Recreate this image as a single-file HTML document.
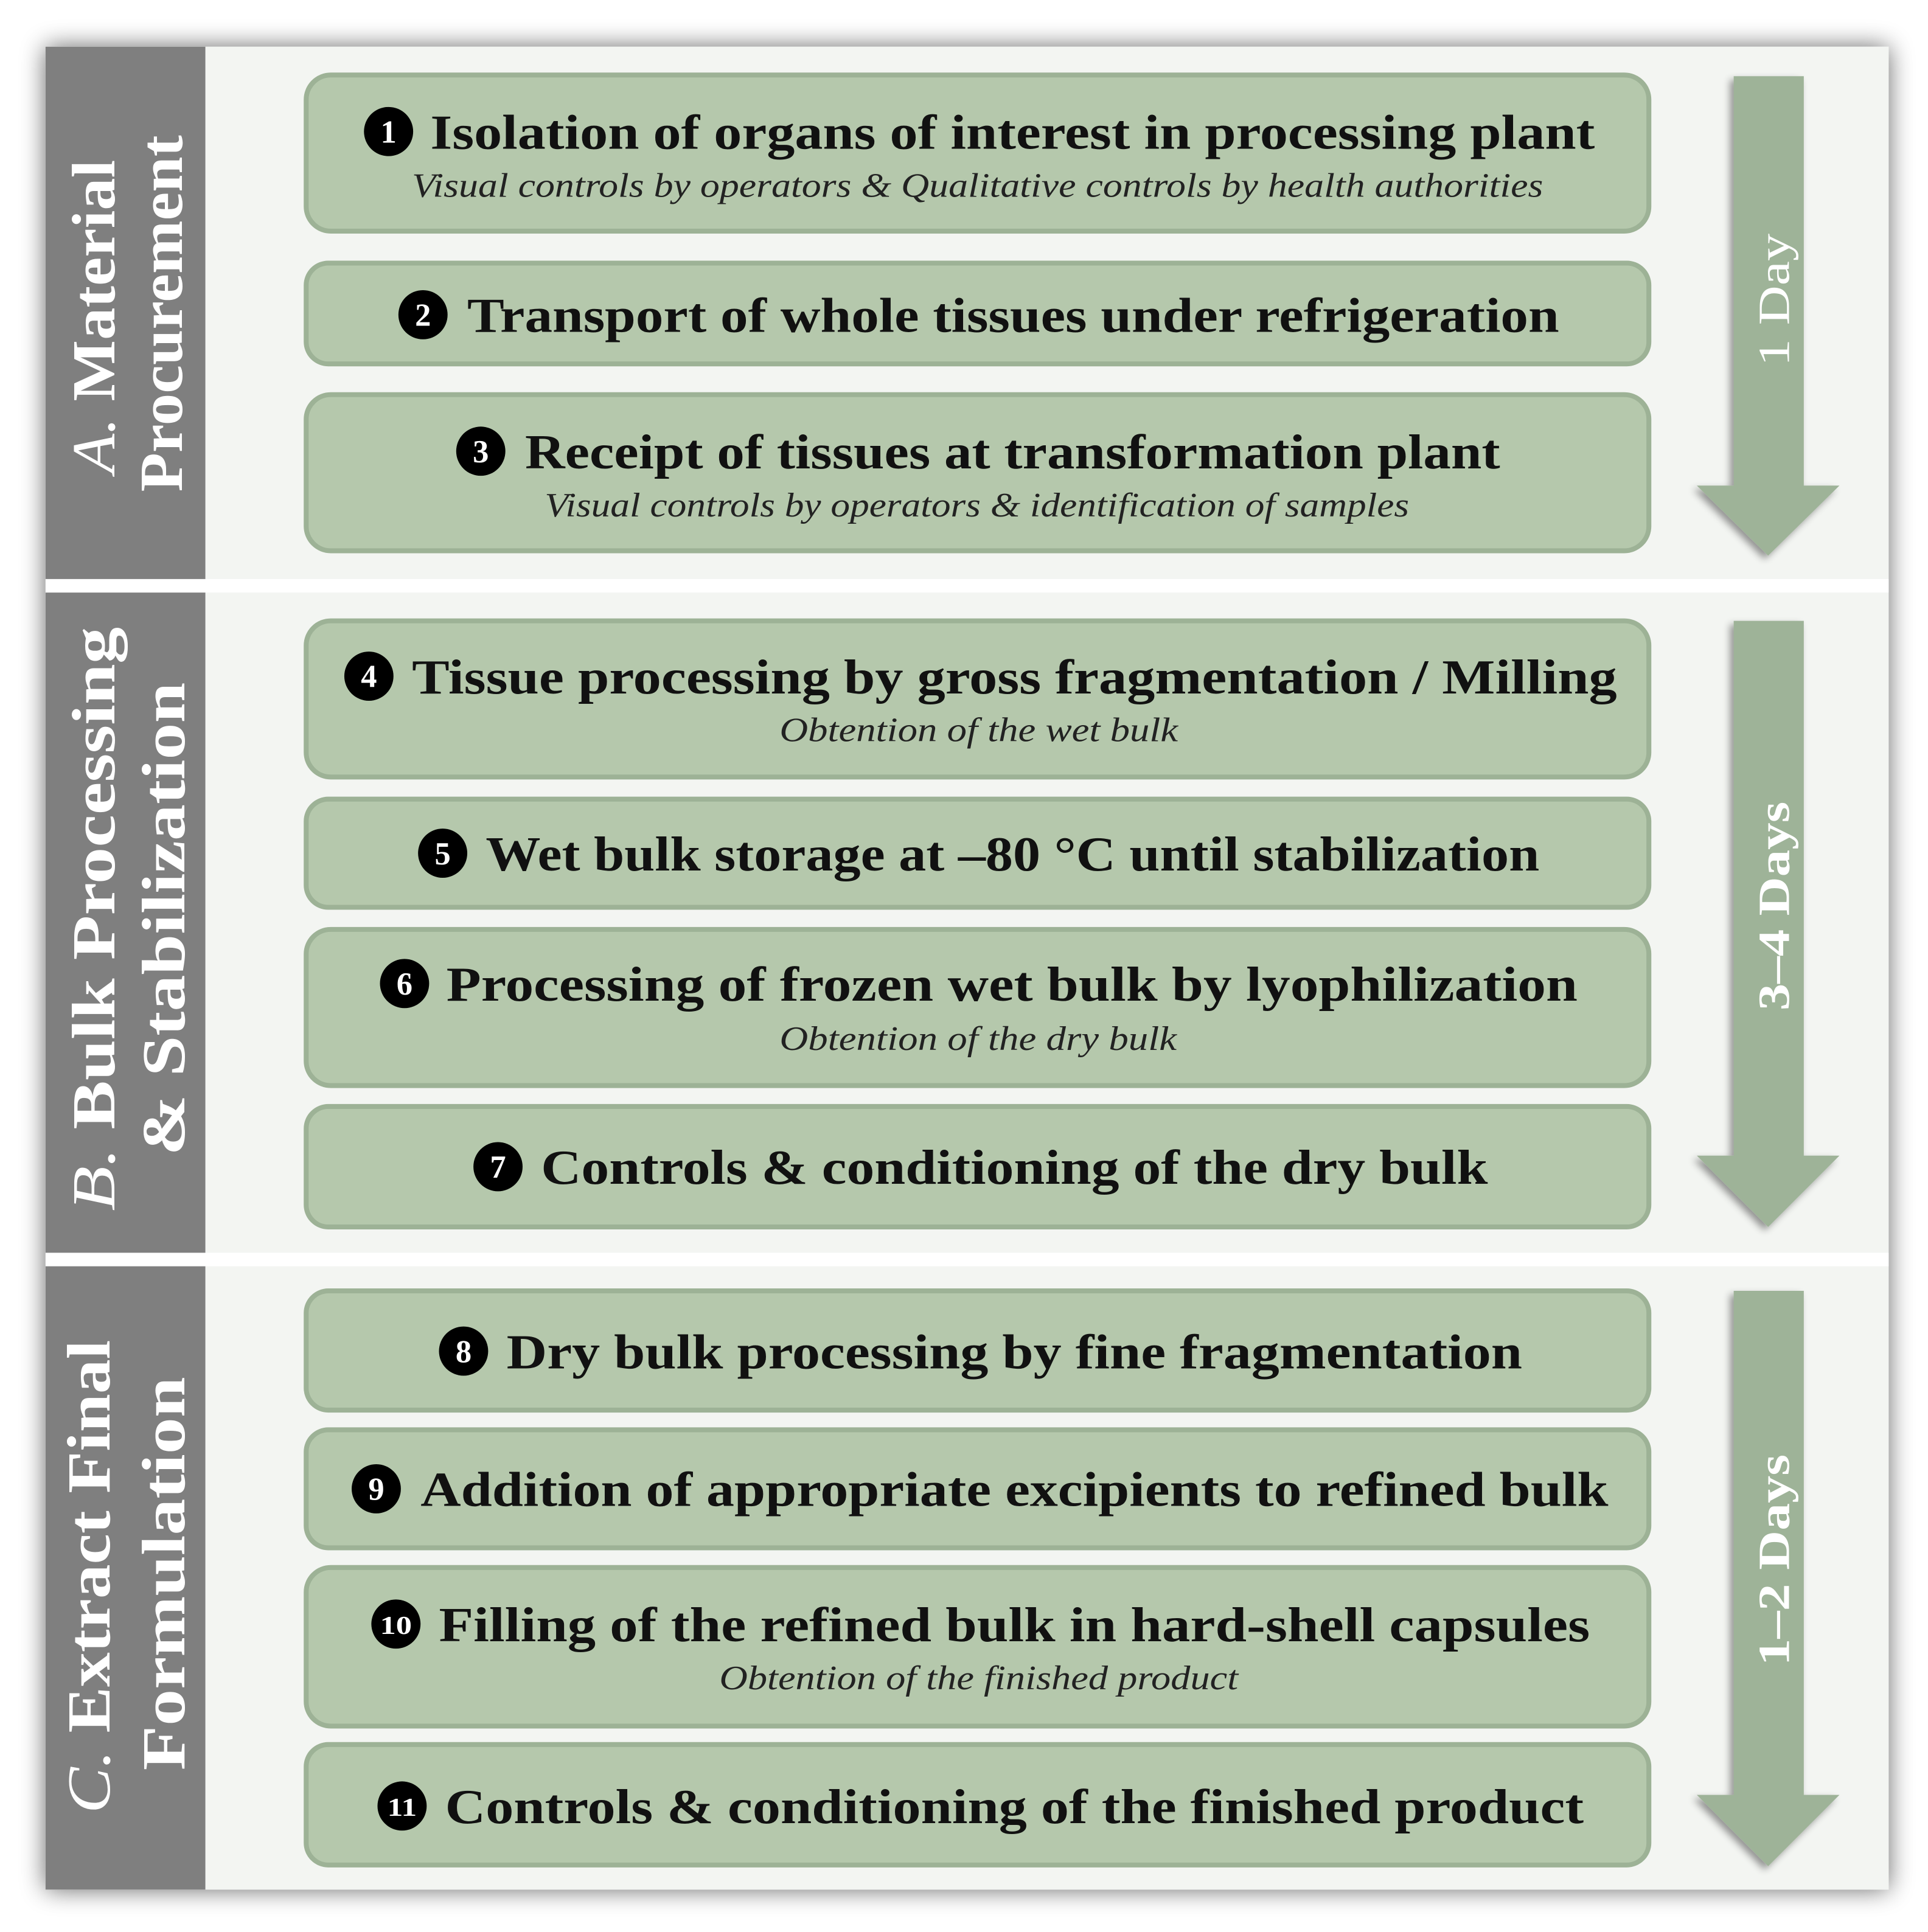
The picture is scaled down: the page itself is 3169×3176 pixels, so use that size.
<!DOCTYPE html>
<html><head><meta charset="utf-8"><style>html,body{margin:0;padding:0;background:#fff}svg{display:block}</style></head>
<body>
<svg width="3169" height="3176" viewBox="0 0 1568 1571.5" xmlns="http://www.w3.org/2000/svg">
<defs>
<filter id="sh" x="-10%" y="-10%" width="120%" height="120%"><feGaussianBlur in="SourceAlpha" stdDeviation="10"/><feOffset dx="0" dy="0"/><feComponentTransfer><feFuncA type="linear" slope="0.6"/></feComponentTransfer><feMerge><feMergeNode/><feMergeNode in="SourceGraphic"/></feMerge></filter>
<filter id="s2" x="-20%" y="-20%" width="140%" height="140%"><feGaussianBlur in="SourceAlpha" stdDeviation="3"/><feOffset dx="-3" dy="3"/><feComponentTransfer><feFuncA type="linear" slope="0.4"/></feComponentTransfer><feMerge><feMergeNode/><feMergeNode in="SourceGraphic"/></feMerge></filter>
</defs>
<rect x="0" y="0" width="1568" height="1572" fill="#fff"/>
<rect x="37" y="38" width="1499" height="1499" fill="#f3f5f2" filter="url(#sh)"/>
<rect x="37" y="38" width="130" height="1499" fill="#7f7f7f"/>
<rect x="37" y="471" width="1499" height="11" fill="#fff"/>
<rect x="37" y="1019" width="1499" height="11" fill="#fff"/>
<g fill="#9eb398" filter="url(#s2)">
<polygon points="1410,62 1467,62 1467,395 1496,395 1438,452 1380,395 1410,395"/>
<polygon points="1410,505 1467,505 1467,940 1496,940 1438,998 1380,940 1410,940"/>
<polygon points="1410,1050 1467,1050 1467,1460 1496,1460 1438,1518 1380,1460 1410,1460"/>
</g>
<g font-family="Liberation Serif, serif" font-size="36" fill="#fff">
<text transform="translate(1455,298) rotate(-90)" textLength="108" lengthAdjust="spacingAndGlyphs">1 Day</text>
<text transform="translate(1455,822) rotate(-90)" textLength="170" lengthAdjust="spacingAndGlyphs" font-weight="bold">3–4 Days</text>
<text transform="translate(1455,1355) rotate(-90)" textLength="172" lengthAdjust="spacingAndGlyphs" font-weight="bold">1–2 Days</text>
</g>
<g font-family="Liberation Serif, serif" font-size="50" fill="#fff" font-weight="bold">
<text transform="translate(93,385) rotate(-90)" textLength="255" lengthAdjust="spacingAndGlyphs"><tspan font-style="italic" font-weight="normal">A.</tspan> Material</text>
<text transform="translate(148,400) rotate(-90)" textLength="290" lengthAdjust="spacingAndGlyphs">Procurement</text>
<text transform="translate(93,985) rotate(-90)" textLength="475" lengthAdjust="spacingAndGlyphs"><tspan font-style="italic" font-weight="normal">B.</tspan> Bulk Processing</text>
<text transform="translate(150,940) rotate(-90)" textLength="385" lengthAdjust="spacingAndGlyphs">&amp; Stabilization</text>
<text transform="translate(89,1475) rotate(-90)" textLength="385" lengthAdjust="spacingAndGlyphs"><tspan font-style="italic" font-weight="normal">C.</tspan> Extract Final</text>
<text transform="translate(150,1440) rotate(-90)" textLength="320" lengthAdjust="spacingAndGlyphs">Formulation</text>
</g>
<g fill="#b5c8ac" stroke="#9db296" stroke-width="4">
<rect x="249" y="61" width="1092" height="127" rx="20"/>
<rect x="249" y="214" width="1092" height="82" rx="18"/>
<rect x="249" y="321" width="1092" height="127" rx="20"/>
<rect x="249" y="505" width="1092" height="127" rx="20"/>
<rect x="249" y="650" width="1092" height="88" rx="18"/>
<rect x="249" y="756" width="1092" height="127" rx="20"/>
<rect x="249" y="900" width="1092" height="98" rx="18"/>
<rect x="249" y="1050" width="1092" height="97" rx="18"/>
<rect x="249" y="1163" width="1092" height="96" rx="18"/>
<rect x="249" y="1275" width="1092" height="129" rx="20"/>
<rect x="249" y="1419" width="1092" height="98" rx="18"/>
</g>
<g fill="#000">
<circle cx="316" cy="107" r="20"/><circle cx="344" cy="256" r="20"/><circle cx="391" cy="367" r="20"/>
<circle cx="300" cy="550" r="20"/><circle cx="360" cy="694" r="20"/><circle cx="329" cy="800" r="20"/>
<circle cx="405" cy="949" r="20"/><circle cx="377" cy="1099" r="20"/><circle cx="306" cy="1211" r="20"/>
<circle cx="322" cy="1321" r="20"/><circle cx="327" cy="1469" r="20"/>
</g>
<g font-family="Liberation Serif, serif" font-size="26" font-weight="bold" fill="#fff" text-anchor="middle">
<text x="316" y="116">1</text><text x="344" y="265">2</text><text x="391" y="376">3</text>
<text x="300" y="559">4</text><text x="360" y="703">5</text><text x="329" y="809">6</text>
<text x="405" y="958">7</text><text x="377" y="1108">8</text><text x="306" y="1220">9</text>
<text x="322" y="1329" font-size="21" textLength="26" lengthAdjust="spacingAndGlyphs">10</text><text x="327" y="1477" font-size="21" textLength="24" lengthAdjust="spacingAndGlyphs">11</text>
</g>
<g font-family="Liberation Serif, serif" font-size="40" font-weight="bold" fill="#111" lengthAdjust="spacingAndGlyphs">
<text x="350" y="121" textLength="947" lengthAdjust="spacingAndGlyphs">Isolation of organs of interest in processing plant</text>
<text x="380" y="270" textLength="888" lengthAdjust="spacingAndGlyphs">Transport of whole tissues under refrigeration</text>
<text x="427" y="381" textLength="793" lengthAdjust="spacingAndGlyphs">Receipt of tissues at transformation plant</text>
<text x="335" y="564" textLength="980" lengthAdjust="spacingAndGlyphs">Tissue processing by gross fragmentation / Milling</text>
<text x="395" y="708" textLength="857" lengthAdjust="spacingAndGlyphs">Wet bulk storage at –80 °C until stabilization</text>
<text x="363" y="814" textLength="920" lengthAdjust="spacingAndGlyphs">Processing of frozen wet bulk by lyophilization</text>
<text x="440" y="963" textLength="770" lengthAdjust="spacingAndGlyphs">Controls &amp; conditioning of the dry bulk</text>
<text x="412" y="1113" textLength="826" lengthAdjust="spacingAndGlyphs">Dry bulk processing by fine fragmentation</text>
<text x="342" y="1225" textLength="966" lengthAdjust="spacingAndGlyphs">Addition of appropriate excipients to refined bulk</text>
<text x="357" y="1335" textLength="936" lengthAdjust="spacingAndGlyphs">Filling of the refined bulk in hard-shell capsules</text>
<text x="362" y="1483" textLength="926" lengthAdjust="spacingAndGlyphs">Controls &amp; conditioning of the finished product</text>
</g>
<g font-family="Liberation Serif, serif" font-size="28" font-style="italic" fill="#222">
<text x="335" y="160" textLength="920" lengthAdjust="spacingAndGlyphs">Visual controls by operators &amp; Qualitative controls by health authorities</text>
<text x="443" y="420" textLength="703" lengthAdjust="spacingAndGlyphs">Visual controls by operators &amp; identification of samples</text>
<text x="634" y="603" textLength="324" lengthAdjust="spacingAndGlyphs">Obtention of the wet bulk</text>
<text x="634" y="854" textLength="323" lengthAdjust="spacingAndGlyphs">Obtention of the dry bulk</text>
<text x="585" y="1374" textLength="422" lengthAdjust="spacingAndGlyphs">Obtention of the finished product</text>
</g>
</svg>
</body></html>
